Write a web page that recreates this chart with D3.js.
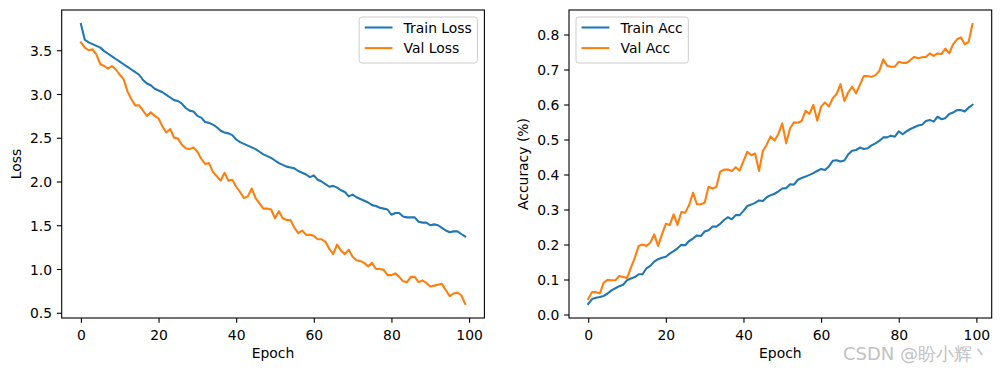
<!DOCTYPE html>
<html>
<head>
<meta charset="utf-8">
<script src="https://cdn.jsdelivr.net/npm/d3@7"></script>
<style>
html,body{margin:0;padding:0;background:#fff;}
svg{display:block;}
text{font-family:"DejaVu Sans",sans-serif;}
</style>
</head>
<body>
<svg id="chart" width="1001" height="371"></svg>
<script>
const epochs = d3.range(100);
const trainLoss = [3.80,3.62,3.59,3.57,3.55,3.53,3.49,3.46,3.43,3.40,
3.37,3.34,3.31,3.28,3.25,3.22,3.16,3.12,3.10,3.06,
3.04,3.02,2.99,2.96,2.93,2.92,2.89,2.84,2.81,2.80,
2.75,2.73,2.68,2.67,2.65,2.62,2.58,2.56,2.55,2.53,
2.48,2.45,2.43,2.41,2.39,2.37,2.34,2.31,2.29,2.27,
2.24,2.21,2.19,2.17,2.16,2.15,2.12,2.10,2.08,2.05,
2.07,2.02,2.00,1.97,1.94,1.95,1.93,1.90,1.88,1.83,
1.85,1.82,1.80,1.78,1.76,1.73,1.72,1.70,1.69,1.68,
1.62,1.64,1.64,1.60,1.59,1.59,1.59,1.54,1.53,1.53,
1.50,1.51,1.50,1.47,1.44,1.42,1.43,1.43,1.40,1.37];
const valLoss = [3.59,3.53,3.50,3.51,3.45,3.34,3.32,3.29,3.32,3.28,
3.22,3.17,3.03,2.94,2.87,2.87,2.81,2.75,2.79,2.75,
2.72,2.63,2.56,2.60,2.50,2.49,2.42,2.38,2.37,2.39,
2.34,2.26,2.20,2.21,2.11,2.06,2.01,2.10,2.01,2.02,
1.94,1.88,1.81,1.83,1.92,1.81,1.75,1.69,1.69,1.68,
1.58,1.66,1.58,1.56,1.56,1.47,1.41,1.44,1.39,1.39,
1.38,1.34,1.34,1.31,1.23,1.17,1.28,1.21,1.17,1.22,
1.14,1.10,1.09,1.07,1.03,1.07,1.00,1.00,0.99,0.93,
0.93,0.95,0.91,0.86,0.85,0.91,0.91,0.85,0.87,0.84,
0.80,0.81,0.82,0.83,0.76,0.69,0.72,0.73,0.70,0.60];
const trainAcc = [0.030,0.044,0.048,0.050,0.053,0.060,0.069,0.075,0.081,0.085,
0.098,0.103,0.107,0.115,0.115,0.132,0.139,0.151,0.158,0.162,
0.165,0.174,0.181,0.189,0.199,0.198,0.210,0.217,0.226,0.224,
0.237,0.241,0.251,0.251,0.259,0.270,0.278,0.272,0.284,0.284,
0.296,0.310,0.314,0.319,0.326,0.324,0.335,0.341,0.345,0.352,
0.360,0.361,0.372,0.371,0.385,0.390,0.394,0.399,0.404,0.410,
0.416,0.413,0.423,0.439,0.441,0.437,0.440,0.458,0.468,0.470,
0.477,0.473,0.475,0.483,0.489,0.496,0.506,0.506,0.511,0.508,
0.523,0.515,0.523,0.530,0.535,0.540,0.542,0.553,0.556,0.551,
0.565,0.558,0.561,0.573,0.577,0.584,0.584,0.580,0.591,0.599];
const valAcc = [0.044,0.064,0.064,0.060,0.091,0.099,0.098,0.098,0.110,0.107,
0.104,0.134,0.162,0.196,0.200,0.196,0.205,0.229,0.196,0.229,
0.259,0.256,0.286,0.256,0.293,0.291,0.313,0.348,0.315,0.315,
0.319,0.365,0.360,0.364,0.408,0.414,0.414,0.410,0.421,0.411,
0.438,0.465,0.455,0.460,0.410,0.467,0.486,0.509,0.497,0.516,
0.546,0.489,0.532,0.549,0.548,0.553,0.582,0.573,0.599,0.554,
0.594,0.606,0.594,0.618,0.630,0.658,0.610,0.635,0.651,0.632,
0.656,0.681,0.681,0.679,0.684,0.696,0.729,0.711,0.708,0.708,
0.722,0.719,0.719,0.727,0.736,0.732,0.735,0.736,0.746,0.739,
0.746,0.744,0.760,0.746,0.772,0.786,0.792,0.772,0.779,0.830];

const xTicks = [0,20,40,60,80,100];
const lossTicks = [0.5,1.0,1.5,2.0,2.5,3.0,3.5];
const accTicks = [0.0,0.1,0.2,0.3,0.4,0.5,0.6,0.7,0.8];
const lossSeriesNames = ["Train Loss","Val Loss"];
const accSeriesNames = ["Train Acc","Val Acc"];
const colors = ["#1f77b4","#ff7f0e"];

const FS = 13.9;
const svg = d3.select("#chart");

function panel(opts){
  const {x0,x1,y0,y1,series,names,yTicks,ylabel,ylabelX,legendSide} = opts;
  const all = series.flat();
  const lo = d3.min(all), hi = d3.max(all), pad = (hi-lo)*0.05;
  const xs = d3.scaleLinear().domain([-4.95, 103.95]).range([x0,x1]);
  const ys = d3.scaleLinear().domain([lo-pad, hi+pad]).range([y1,y0]);
  const g = svg.append("g");

  const line = d3.line().x((d,i)=>xs(epochs[i])).y(d=>ys(d));
  series.forEach((s,k)=>{
    g.append("path").datum(s).attr("d",line)
      .attr("fill","none").attr("stroke",colors[k])
      .attr("stroke-width",2.08).attr("stroke-linejoin","round").attr("stroke-linecap","square");
  });

  const xa = g.append("g").attr("transform",`translate(0,${y1})`)
    .call(d3.axisBottom(xs).tickValues(xTicks).tickFormat(d3.format("d")).tickSize(4.86).tickPadding(4.86).tickSizeOuter(0));
  const ya = g.append("g").attr("transform",`translate(${x0},0)`)
    .call(d3.axisLeft(ys).tickValues(yTicks).tickFormat(d3.format(".1f")).tickSize(4.86).tickPadding(4.86).tickSizeOuter(0));
  [xa,ya].forEach(a=>{
    a.select(".domain").remove();
    a.selectAll("line").attr("stroke","#000").attr("stroke-width",1.1);
    a.selectAll("text").attr("font-size",FS).attr("fill","#000").attr("font-family","DejaVu Sans");
  });
  xa.selectAll("text").attr("dy","0.86em");
  ya.selectAll("text").attr("dy","0.36em");

  g.append("rect").attr("x",x0).attr("y",y0).attr("width",x1-x0).attr("height",y1-y0)
    .attr("fill","none").attr("stroke","#000").attr("stroke-width",1.1);

  g.append("text").attr("x",(x0+x1)/2).attr("y",357.5).attr("text-anchor","middle")
    .attr("font-size",FS).attr("fill","#000").text("Epoch");
  g.append("text").attr("transform",`translate(${ylabelX},${(y0+y1)/2}) rotate(-90)`)
    .attr("text-anchor","middle").attr("font-size",FS).attr("fill","#000").text(ylabel);

  const tmp = g.append("text").attr("font-size",FS).text(names.reduce((a,b)=>a.length>b.length?a:b));
  const tw = tmp.node().getComputedTextLength(); tmp.remove();
  const bp = 0.4*FS, hl = 2*FS, htp = 0.8*FS;
  const lw = bp*2 + hl + htp + tw, lh = 46;
  const lx = legendSide==="right" ? x1 - 7 - lw : x0 + 7;
  const ly = y0 + 7;
  const lg = g.append("g");
  lg.append("rect").attr("x",lx).attr("y",ly).attr("width",lw).attr("height",lh)
    .attr("rx",2.8).attr("fill","#fff").attr("fill-opacity",0.8)
    .attr("stroke","#cccccc").attr("stroke-width",1);
  names.forEach((n,k)=>{
    const cy = ly + 10.5 + k*20.6;
    lg.append("line").attr("x1",lx+bp).attr("x2",lx+bp+hl).attr("y1",cy).attr("y2",cy)
      .attr("stroke",colors[k]).attr("stroke-width",2.08);
    lg.append("text").attr("x",lx+bp+hl+htp).attr("y",cy).attr("dy","0.36em")
      .attr("font-size",FS).attr("fill","#000").text(n);
  });
}

panel({x0:61.7,x1:484.4,y0:10,y1:318,series:[trainLoss,valLoss],names:lossSeriesNames,
  yTicks:lossTicks,ylabel:"Loss",ylabelX:21,legendSide:"right"});
panel({x0:569,x1:991.7,y0:10,y1:318,series:[trainAcc,valAcc],names:accSeriesNames,
  yTicks:accTicks,ylabel:"Accuracy (%)",ylabelX:527.5,legendSide:"left"});

svg.append("text").attr("x",990).attr("y",360).attr("text-anchor","end")
  .attr("font-family","'Noto Sans CJK SC','Noto Sans',sans-serif")
  .attr("font-size",18).attr("fill","#c2c2c2").text("CSDN @盼小辉丶");
</script>
</body>
</html>
